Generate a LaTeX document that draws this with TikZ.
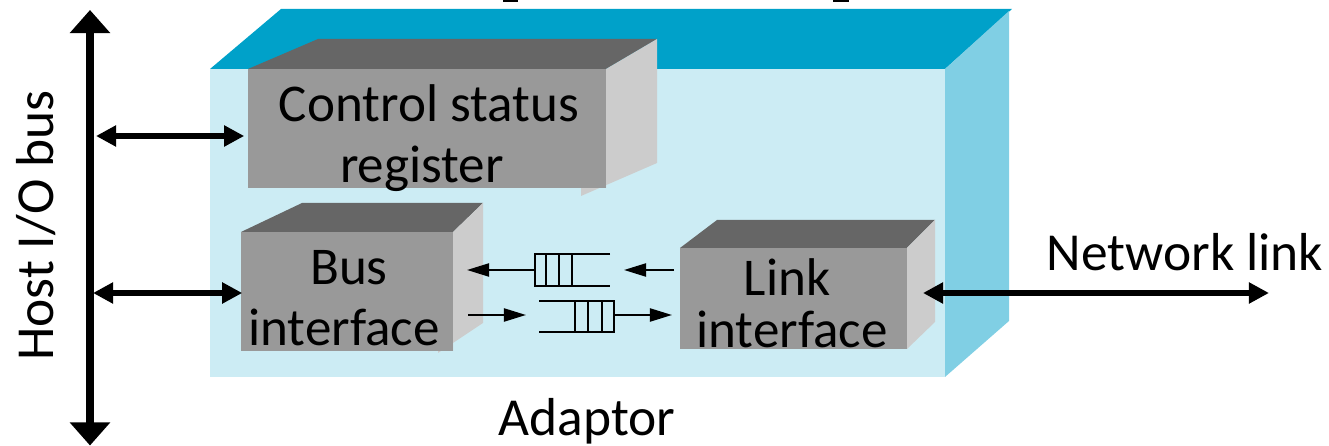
\documentclass[tikz,border=0pt]{standalone}
\usepackage{fontspec}
\setmainfont{Carlito}
\usetikzlibrary{arrows.meta}
\definecolor{adaptortop}{RGB}{0,161,201}
\definecolor{adaptorside}{RGB}{128,207,228}
\definecolor{adaptorfront}{RGB}{204,236,244}
\definecolor{blocktop}{RGB}{102,102,102}
\definecolor{blockfront}{RGB}{153,153,153}
\definecolor{blockside}{RGB}{204,204,204}
\begin{document}
\begin{tikzpicture}[x=0.01cm,y=-0.01cm,line join=miter,>={Triangle[length=0.2cm,width=0.2cm]}]
    \tikzset{block/.style={fill=blockfront,inner sep=0pt,align=center},
        block text/.style={font=\fontsize{15.1}{17.3}\selectfont},
        label style/.style={font=\fontsize{15.2}{18}\selectfont,inner sep=0pt},
        link/.style={line width=1.8pt,<->},
        small link/.style={line width=0.6pt,->,>={Triangle[length=0.22cm,width=0.13cm]}},
        queue line/.style={line width=0.65pt}}
    \useasboundingbox (0,0) rectangle (1329,446);
    % cut off title
    \fill (503,0) rectangle (518,2);
    \fill (833,0) rectangle (849,2);
    % adaptor box
    \fill[adaptortop] (210,69)--(281,9)--(1012,9)--(945,69)--cycle;
    \fill[adaptorside] (945,69)--(1009,11)--(1009,321)--(945,377)--cycle;
    \fill[adaptorfront] (210,69) rectangle (945,377);
    % control status register
    \fill[blocktop] (248,69)--(318,39)--(657,39)--(606,69)--cycle;
    \fill[blockside] (606,69)--(657,39)--(657,163)--(581,196)--(581,188)--(606,188)--cycle;
    \node[block,minimum width=3.58cm,minimum height=1.19cm] (csr) at (427,128.5) {};
    \node[block text] (csrtext) at (429,138) [align=center] {Control status\\register\kern0.14cm};
    % bus interface
    \fill[blocktop] (241,232)--(302,203)--(483,203)--(453,232)--cycle;
    \fill[blockside] (453,232)--(483,203)--(483,323)--(438,353)--(438,351)--(453,351)--cycle;
    \node[block,minimum width=2.12cm,minimum height=1.19cm] (bus) at (347,291.5) {};
    \node[block text] (bustext) at (344,298) [align=center] {\kern0.1cm Bus\\interface};
    % link interface
    \fill[blocktop] (680,248)--(717,220)--(935,220)--(907,248)--cycle;
    \fill[blockside] (907,248)--(935,220)--(935,322)--(907,349)--cycle;
    \node[block,minimum width=2.27cm,minimum height=1.01cm] (lnk) at (793.5,298.5) {};
    \node[block text,font=\fontsize{15.1}{14.8}\selectfont] (lnktext) at (792,303) [align=center] {Link\kern0.1cm\\interface};
    % host bus
    \coordinate (bustop) at (90,10);
    \coordinate (busbottom) at (90,445.5);
    \coordinate (busa) at (96,136);
    \coordinate (busb) at (93,293);
    \coordinate (netend) at (1269,293);
    \coordinate (lnkend) at (923,293);
    \draw[line width=2.3pt,<->,>={Triangle[length=0.23cm,width=0.39cm]}] (bustop)--(busbottom);
    \draw[link] (busa)--([xshift=-0.03cm]csr.west|-busa);
    \draw[link] (busb)--([xshift=0.02cm]bus.west|-busb);
    \draw[link] (lnkend)--(netend);
    % queues
    \draw[queue line] (610,254)--(535,254)--(535,286)--(610,286);
    \draw[queue line] (546,254)--(546,286) (559,254)--(559,286) (572,254)--(572,286);
    \draw[queue line] (539,301)--(614,301)--(614,332)--(539,332);
    \draw[queue line] (575,301)--(575,332) (588,301)--(588,332) (602,301)--(602,332);
    \coordinate (qa) at (535,270);
    \coordinate (qb) at (614,315);
    \coordinate (busq) at (467,270);
    \coordinate (lnkq) at (672,315);
    \draw[small link] (qa)--(busq);
    \draw[small link] (qb)--(lnkq);
    \coordinate (ina) at (674,270);
    \coordinate (inb) at (624,270);
    \coordinate (outa) at (468,315);
    \coordinate (outb) at (526,315);
    \draw[small link] (ina)--(inb);
    \draw[small link] (outa)--(outb);
    % labels
    \node[label style,rotate=90] (hostlabel) at (36,225.5) {Host I/O bus};
    \node[label style] (netlabel) at (1185,252) {Network link};
    \node[label style] (adaptorlabel) at (587,421) {Adaptor};
\end{tikzpicture}
\end{document}
